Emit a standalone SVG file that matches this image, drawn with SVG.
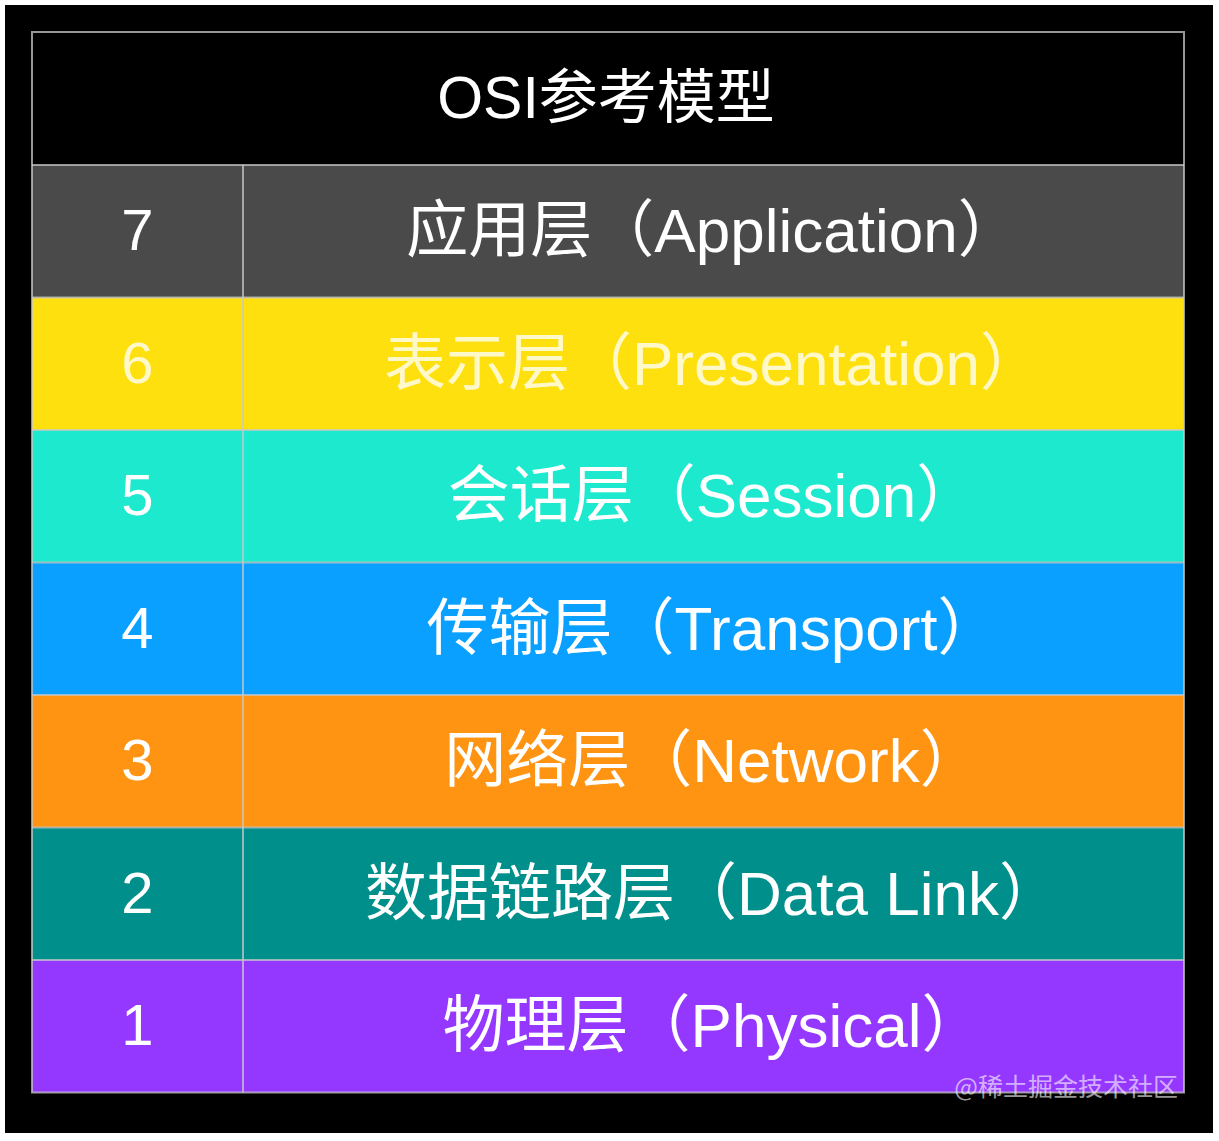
<svg xmlns="http://www.w3.org/2000/svg" width="1219" height="1141" viewBox="0 0 1219 1141">
<style>
.t{font-family:"Liberation Sans","Noto Sans CJK SC",sans-serif;fill:#ffffff;text-anchor:middle}
.num{font-size:58px}
.lbl{font-size:62px}
.grid{stroke:#c8c8c8;stroke-opacity:0.75;stroke-width:2;fill:none}
</style>
<rect x="0" y="0" width="1219" height="1141" fill="#ffffff"/>
<rect x="5" y="5" width="1208" height="1128" fill="#000000"/>
<g id="title">
<rect x="32" y="32" width="1152" height="133" fill="#000000"/>
<text class="t" x="606" y="118" font-size="59">OSI参考模型</text>
</g>
<g id="layer7">
<rect x="32" y="165" width="1152" height="132.5" fill="#4a4a4a"/>
<text class="t num" x="137.5" y="250">7</text>
<text class="t lbl" x="713" y="252">应用层（Application）</text>
</g>
<g id="layer6">
<rect x="32" y="297.5" width="1152" height="132.5" fill="#ffe00f"/>
<text class="t num" x="137.5" y="382.5" style="fill:#fff8c8">6</text>
<text class="t lbl" x="713" y="384.5" style="fill:#fff8c8">表示层（Presentation）</text>
</g>
<g id="layer5">
<rect x="32" y="430" width="1152" height="132.5" fill="#1de9cf"/>
<text class="t num" x="137.5" y="515">5</text>
<text class="t lbl" x="713" y="517">会话层（Session）</text>
</g>
<g id="layer4">
<rect x="32" y="562.5" width="1152" height="132.5" fill="#0aa0ff"/>
<text class="t num" x="137.5" y="647.5">4</text>
<text class="t lbl" x="713" y="649.5">传输层（Transport）</text>
</g>
<g id="layer3">
<rect x="32" y="695" width="1152" height="132.5" fill="#ff9412"/>
<text class="t num" x="137.5" y="780">3</text>
<text class="t lbl" x="713" y="782">网络层（Network）</text>
</g>
<g id="layer2">
<rect x="32" y="827.5" width="1152" height="132.5" fill="#008f8a"/>
<text class="t num" x="137.5" y="912.5">2</text>
<text class="t lbl" x="713" y="914.5">数据链路层（Data Link）</text>
</g>
<g id="layer1">
<rect x="32" y="960" width="1152" height="132.5" fill="#9538ff"/>
<text class="t num" x="137.5" y="1045">1</text>
<text class="t lbl" x="713" y="1047">物理层（Physical）</text>
</g>
<g id="grid" class="grid">
<rect x="32" y="32" width="1152" height="1060.5"/>
<line x1="32" y1="165" x2="1184" y2="165"/>
<line x1="32" y1="297.5" x2="1184" y2="297.5"/>
<line x1="32" y1="430" x2="1184" y2="430"/>
<line x1="32" y1="562.5" x2="1184" y2="562.5"/>
<line x1="32" y1="695" x2="1184" y2="695"/>
<line x1="32" y1="827.5" x2="1184" y2="827.5"/>
<line x1="32" y1="960" x2="1184" y2="960"/>
<line x1="243" y1="165" x2="243" y2="1092.5"/>
</g>
<text x="1178" y="1096" font-family="'Noto Sans CJK SC',sans-serif" font-size="25" fill="#ffffff" fill-opacity="0.6" text-anchor="end">@稀土掘金技术社区</text>
</svg>
